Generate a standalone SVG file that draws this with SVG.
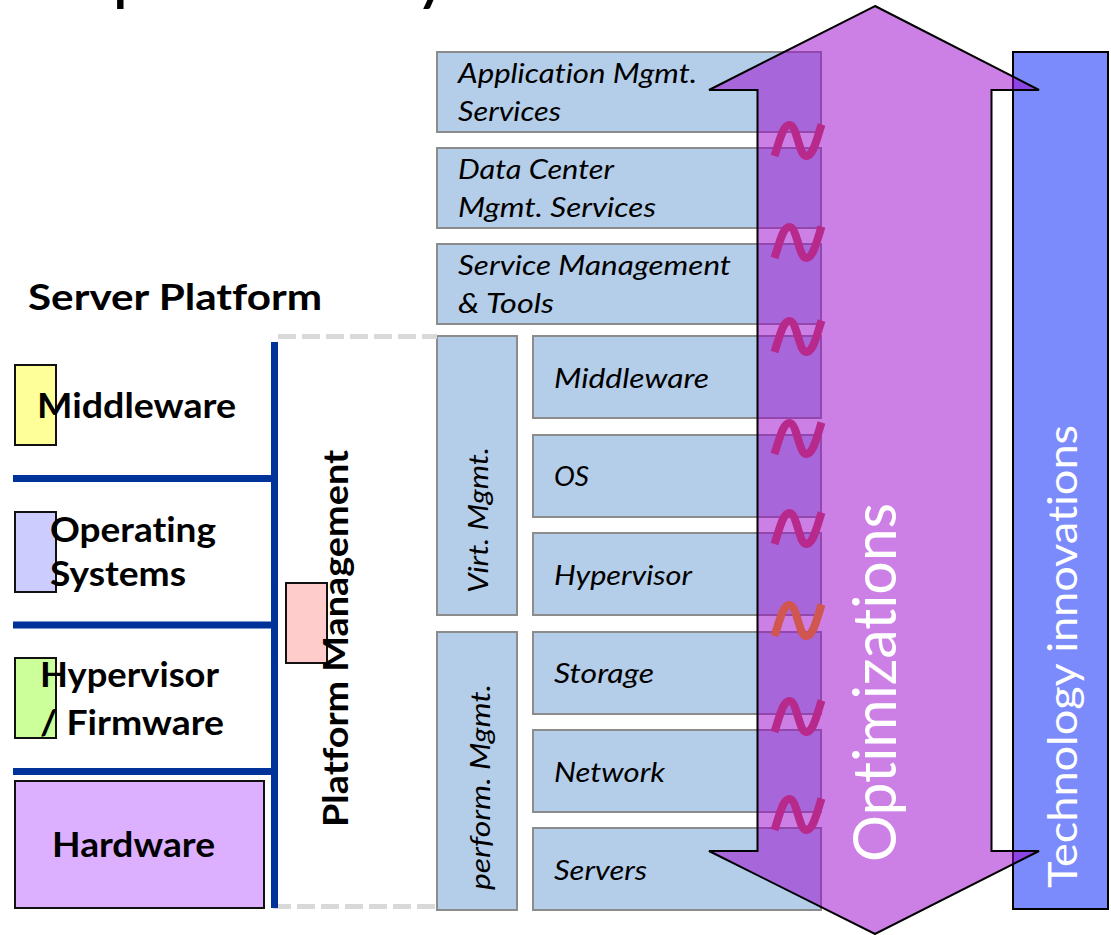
<svg xmlns="http://www.w3.org/2000/svg" xmlns:xlink="http://www.w3.org/1999/xlink" width="1111" height="935" viewBox="0 0 1111 935">
<style>
text{font-family:Lato,"Liberation Sans",Arial,sans-serif;fill:#000;font-variant-ligatures:none}
.b{font-weight:700;font-size:35px}
.i{font-style:italic;font-size:27px}
.w{fill:#fff}
.box{fill:#b4cde8;stroke:#8c8c8c;stroke-width:2}
.sm{stroke:#111;stroke-width:2}
.bar{stroke:#003399;stroke-width:7;fill:none}
.til{fill:none;stroke-width:8;stroke-linecap:butt}
</style>
<defs>
<path id="tilde" d="M774.500 156C780 139 783 125 789.500 125C797 125 799 156 806 156C813 156 816 142 821.500 124.500"/>
</defs>
<rect width="1111" height="935" fill="#fff"/>
<g id="title-fragment"><text x="112" y="-3" font-size="72">p</text><text x="414" y="-3" font-size="72">y</text></g>
<g id="tech"><rect x="1013" y="52" width="95" height="857" fill="#7b8bfb" stroke="#000" stroke-width="2"/></g>
<g id="services">
<g id="n-app"><rect class="box" x="437" y="52" width="384" height="80"/><text class="i" x="458" y="83" textLength="239" lengthAdjust="spacingAndGlyphs">Application Mgmt.</text><text class="i" x="458" y="121" textLength="103" lengthAdjust="spacingAndGlyphs">Services</text></g>
<g id="n-dc"><rect class="box" x="437" y="148" width="384" height="80"/><text class="i" x="458" y="179" textLength="156" lengthAdjust="spacingAndGlyphs">Data Center</text><text class="i" x="458" y="217" textLength="198" lengthAdjust="spacingAndGlyphs">Mgmt. Services</text></g>
<g id="n-sm"><rect class="box" x="437" y="244" width="384" height="80"/><text class="i" x="458" y="275" textLength="273" lengthAdjust="spacingAndGlyphs">Service Management</text><text class="i" x="458" y="313" textLength="96" lengthAdjust="spacingAndGlyphs">&amp; Tools</text></g>
<g id="n-virt"><rect class="box" x="437" y="336" width="80" height="279"/><text class="i" transform="translate(488 593) rotate(-90)" textLength="146" lengthAdjust="spacingAndGlyphs">Virt. Mgmt.</text></g>
<g id="n-perf"><rect class="box" x="437" y="632" width="80" height="278"/><text class="i" transform="translate(490 890) rotate(-90)" textLength="206" lengthAdjust="spacingAndGlyphs">perform. Mgmt.</text></g>
<g id="n-mw"><rect class="box" x="533" y="336" width="288" height="82"/><text class="i" x="554" y="388" textLength="155" lengthAdjust="spacingAndGlyphs">Middleware</text></g>
<g id="n-os"><rect class="box" x="533" y="435" width="288" height="82"/><text class="i" x="554" y="486" textLength="35" lengthAdjust="spacingAndGlyphs">OS</text></g>
<g id="n-hv"><rect class="box" x="533" y="533" width="288" height="82"/><text class="i" x="554" y="585" textLength="138" lengthAdjust="spacingAndGlyphs">Hypervisor</text></g>
<g id="n-st"><rect class="box" x="533" y="632" width="288" height="82"/><text class="i" x="554" y="683" textLength="100" lengthAdjust="spacingAndGlyphs">Storage</text></g>
<g id="n-net"><rect class="box" x="533" y="730" width="288" height="82"/><text class="i" x="554" y="782" textLength="111" lengthAdjust="spacingAndGlyphs">Network</text></g>
<g id="n-srv"><rect class="box" x="533" y="828" width="288" height="82"/><text class="i" x="554" y="880" textLength="93" lengthAdjust="spacingAndGlyphs">Servers</text></g>
</g>
<g id="arrow"><path d="M875 6L1039 90H991.500V851H1039L875 934L709 851H757.500V90H709Z" fill="#9900cc" fill-opacity=".5" stroke="#000" stroke-width="2"/></g>
<g id="tildes" class="til" stroke="#b8298c">
<use xlink:href="#tilde" href="#tilde"/>
<use xlink:href="#tilde" href="#tilde" y="102"/>
<use xlink:href="#tilde" href="#tilde" y="196"/>
<use xlink:href="#tilde" href="#tilde" y="298"/>
<use xlink:href="#tilde" href="#tilde" y="388"/>
<use xlink:href="#tilde" href="#tilde" y="480" stroke="#d0564f"/>
<use xlink:href="#tilde" href="#tilde" y="576"/>
<use xlink:href="#tilde" href="#tilde" y="674"/>
</g>
<g id="labels">
<text class="w" font-size="60" transform="translate(896 862) rotate(-90)" textLength="359" lengthAdjust="spacingAndGlyphs">Optimizations</text>
<text class="w" font-size="41" transform="translate(1077 888) rotate(-90)" textLength="463" lengthAdjust="spacingAndGlyphs">Technology innovations</text>
</g>
<g id="connectors">
<path d="M278 336.500H437M273 906.500H436" fill="none" stroke="#d9d9d9" stroke-width="5" stroke-dasharray="18 6"/>
<path d="M274.500 342V908M13 478.500H274M13 625H274M13 771.500H274" class="bar"/>
</g>
<g id="n-middleware"><rect class="sm" x="15" y="365" width="41" height="80" fill="#ffff99"/><text class="b" x="37" y="418" textLength="199" lengthAdjust="spacingAndGlyphs">Middleware</text></g>
<g id="n-opsys"><rect class="sm" x="15" y="512" width="41" height="80" fill="#ccccff"/><text class="b" x="50" y="542" textLength="166" lengthAdjust="spacingAndGlyphs">Operating</text><text class="b" x="50" y="586" textLength="136" lengthAdjust="spacingAndGlyphs">Systems</text></g>
<g id="n-hypervisor"><rect class="sm" x="15" y="658" width="41" height="80" fill="#ccff99"/><text class="b" x="40" y="687" textLength="179" lengthAdjust="spacingAndGlyphs">Hypervisor</text><text class="b" x="40" y="735" textLength="184" lengthAdjust="spacingAndGlyphs">/ Firmware</text></g>
<g id="n-hardware"><rect class="sm" x="15" y="781" width="249" height="127" fill="#dcb0ff"/><text class="b" x="52" y="857" textLength="163" lengthAdjust="spacingAndGlyphs">Hardware</text></g>
<g id="n-platform"><rect class="sm" x="286" y="583" width="41" height="80" fill="#ffcccc"/><text class="b" transform="translate(348 827) rotate(-90)" textLength="377" lengthAdjust="spacingAndGlyphs">Platform Management</text></g>
<g id="heading"><text class="b" x="28" y="310" textLength="294" lengthAdjust="spacingAndGlyphs" style="font-size:37px">Server Platform</text></g>
</svg>
